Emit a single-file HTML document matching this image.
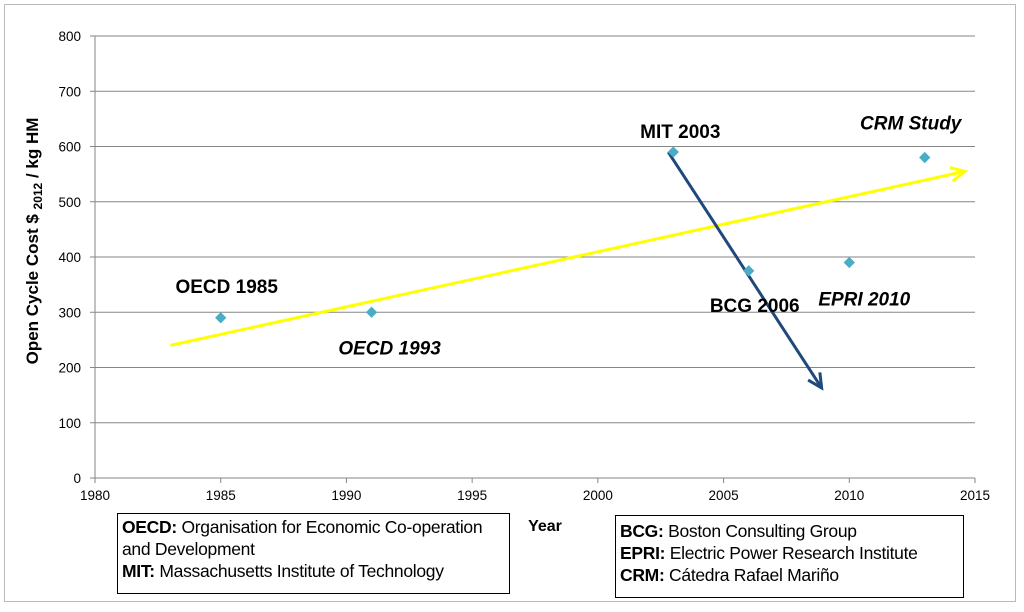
<!DOCTYPE html>
<html><head><meta charset="utf-8"><style>
body{margin:0;background:#fff;width:1024px;height:612px;overflow:hidden;font-family:"Liberation Sans",sans-serif}
.box{position:absolute;border:1.5px solid #000;background:#fff;font-size:17.5px;line-height:22px;padding:2px 4px;box-sizing:border-box;white-space:nowrap;overflow:hidden}
</style></head><body>
<div style="position:absolute;left:4px;top:4px;width:1012px;height:598px;border:1px solid #bbb;box-sizing:border-box"></div>
<svg id="c" width="1024" height="612" style="position:absolute;left:0;top:0"></svg>
<div class="box" style="left:117px;top:513px;width:393px;height:81px;letter-spacing:-0.3px"><b>OECD:</b> Organisation for Economic Co-operation<br>and Development<br><b>MIT:</b> Massachusetts Institute of Technology</div>
<div class="box" style="left:615px;top:515px;width:349px;height:83px;padding-top:4px;letter-spacing:-0.3px"><b>BCG:</b> Boston Consulting Group<br><b>EPRI:</b> Electric Power Research Institute<br><b>CRM:</b> Cátedra Rafael Mariño</div>
<script>
const years=[1985,1991,2003,2006,2010,2013];
const costs=[290,300,590,375,390,580];
const labels=["OECD 1985","OECD 1993","MIT 2003","BCG 2006","EPRI 2010","CRM Study"];
const xTicks=[1980,1985,1990,1995,2000,2005,2010,2015];
const yTicks=[0,100,200,300,400,500,600,700,800];
const trendYears=[1983,2014.6];const trendVals=[240,555];
const dropYears=[2002.8,2008.9];const dropVals=[590,163];
const X=v=>95+(v-1980)*(975-95)/35;
const Y=v=>478-v*(478-36)/800;
const s=document.getElementById('c');const NS="http://www.w3.org/2000/svg";
function el(t,a,txt){const e=document.createElementNS(NS,t);for(const k in a)e.setAttribute(k,a[k]);if(txt!=null)e.textContent=txt;s.appendChild(e);return e;}
yTicks.forEach(v=>{
 const g=el('line',{x1:95,x2:975,y1:Y(v),y2:Y(v),stroke:'#868686','stroke-width':1});
 
 el('line',{x1:90,x2:95,y1:Y(v),y2:Y(v),stroke:'#868686'});
 const t=el('text',{x:81,y:Y(v)+5,'text-anchor':'end','font-size':13.5},v);
 
});
el('line',{x1:95,x2:95,y1:36,y2:478,stroke:'#868686'});
xTicks.forEach(v=>{
 el('line',{x1:X(v),x2:X(v),y1:478,y2:483,stroke:'#868686'});
 const t=el('text',{x:X(v),y:500,'text-anchor':'middle','font-size':13.5},v);
 
});
const yt=el('text',{x:0,y:0,transform:'translate(38,241) rotate(-90)','text-anchor':'middle','font-size':17,'font-weight':'bold'});
yt.innerHTML='Open Cycle Cost $ <tspan font-size="12" dy="4">2012</tspan><tspan dy="-4"> / kg HM</tspan>';

const xt=el('text',{x:545,y:531,'text-anchor':'middle','font-size':16,'font-weight':'bold'},'Year');

function arrow(xs,ys,col,w,name){
 const x1=X(xs[0]),y1=Y(ys[0]),x2=X(xs[1]),y2=Y(ys[1]);
 const a=Math.atan2(y2-y1,x2-x1),L=14,h=7;
 const l=el('line',{x1,y1,x2:x2-Math.cos(a)*3,y2:y2-Math.sin(a)*3,stroke:col,'stroke-width':w});
 
 el('polyline',{points:`${x2-L*Math.cos(a)+h*Math.sin(a)},${y2-L*Math.sin(a)-h*Math.cos(a)} ${x2},${y2} ${x2-L*Math.cos(a)-h*Math.sin(a)},${y2-L*Math.sin(a)+h*Math.cos(a)}`,fill:'none',stroke:col,'stroke-width':w});
}
arrow(trendYears,trendVals,'#ffff00',3,'trend-arrow');
arrow(dropYears,dropVals,'#1f497d',3,'drop-arrow');
const lpos=[[6,-25,0],[18,42,1],[7,-14,0],[6,41,0],[15,43,1],[-14,-28,1]];
years.forEach((yr,i)=>{
 const x=X(yr),y=Y(costs[i]);
 const p=el('rect',{x:x-4,y:y-4,width:8,height:8,fill:'#4bacc6',transform:`rotate(45 ${x} ${y})`});
 
 const o=lpos[i];
 const t=el('text',{x:x+o[0],y:y+o[1],'text-anchor':'middle','font-size':19,'font-weight':'bold','font-style':o[2]?'italic':'normal'},labels[i]);
 
});
</script>
</body></html>
